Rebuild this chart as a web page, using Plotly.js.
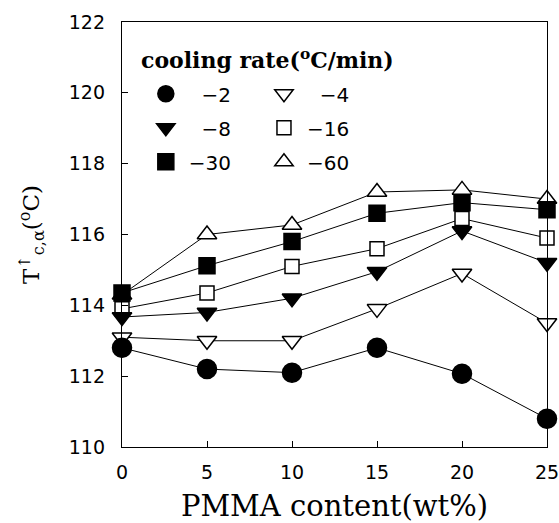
<!DOCTYPE html>
<html>
<head>
<meta charset="utf-8">
<script src="https://cdn.plot.ly/plotly-3.0.1.min.js"></script>
<style>html,body{margin:0;padding:0;background:#fff;}#chart{width:559px;height:523px;}</style>
</head>
<body>
<div id="chart"></div>
<script>
const pmma = [0, 5, 10, 15, 20, 25];
const rateLabels = ['−2', '−4', '−8', '−16', '−30', '−60'];
const tc_m2  = [112.8, 112.2, 112.1, 112.8, 112.07, 110.8];
const tc_m4  = [113.1, 113.0, 113.0, 113.9, 114.9, 113.5];
const tc_m8  = [113.67, 113.8, 114.2, 114.95, 116.1, 115.2];
const tc_m16 = [113.9, 114.35, 115.1, 115.6, 116.45, 115.9];
const tc_m30 = [114.35, 115.12, 115.8, 116.6, 116.9, 116.7];
const tc_m60 = [114.3, 116.0, 116.27, 117.2, 117.26, 117.0];
const yTicks = [110, 112, 114, 116, 118, 120, 122];
const xTicks = [0, 5, 10, 15, 20, 25];

const series = [
  {y: tc_m60, name: rateLabels[5], symbol: 'triangle-up', fill: '#fff', size: 17, legend: 'legend2', rank: 3},
  {y: tc_m4,  name: rateLabels[1], symbol: 'triangle-down', fill: '#fff', size: 17, legend: 'legend2', rank: 1},
  {y: tc_m16, name: rateLabels[3], symbol: 'square', fill: '#fff', size: 14, legend: 'legend2', rank: 2},
  {y: tc_m8,  name: rateLabels[2], symbol: 'triangle-down', fill: '#000', size: 17, legend: 'legend', rank: 2},
  {y: tc_m30, name: rateLabels[4], symbol: 'square', fill: '#000', size: 16, legend: 'legend', rank: 3},
  {y: tc_m2,  name: rateLabels[0], symbol: 'circle', fill: '#000', size: 19, legend: 'legend', rank: 1}
];

const pad = s => (s.length < 3 ? '\u2007' : '') + s;

const traces = [];
series.forEach((s, i) => {
  traces.push({
    x: pmma, y: s.y, type: 'scatter', mode: 'lines', showlegend: false, hoverinfo: 'skip',
    line: {color: '#000', width: 1}, cliponaxis: false
  });
  traces.push({
    x: pmma, y: s.y, name: pad(s.name), type: 'scatter', mode: 'markers',
    legend: s.legend, legendrank: s.rank, legendgroup: 'g' + i, cliponaxis: false,
    marker: {symbol: s.symbol, size: s.size, color: s.fill, line: {color: '#000', width: 1.5}}
  });
});

const legendCommon = {
  orientation: 'v', traceorder: 'grouped', tracegroupgap: 5,
  bgcolor: 'rgba(0,0,0,0)', borderwidth: 0,
  font: {family: 'DejaVu Sans', size: 20, color: '#000'},
  xanchor: 'left', yanchor: 'top', itemwidth: 36
};

const layout = {
  width: 559, height: 523,
  margin: {l: 122, r: 12, t: 22, b: 76, autoexpand: false},
  paper_bgcolor: '#fff', plot_bgcolor: '#fff',
  showlegend: true,
  legend: Object.assign({}, legendCommon, {x: 0.049, y: 0.877}),
  legend2: Object.assign({}, legendCommon, {x: 0.327, y: 0.877}),
  xaxis: {
    range: [0, 25], tickvals: xTicks, ticks: 'inside', ticklen: 6, tickcolor: '#000',
    showline: true, linecolor: '#000', linewidth: 1.2, mirror: true, showgrid: false, zeroline: false,
    tickfont: {family: 'DejaVu Sans', size: 19, color: '#000'},
    ticklabelstandoff: 8, ticklabeloverflow: 'allow',
    title: {text: 'PMMA content(wt%)', font: {family: 'DejaVu Serif', size: 29, color: '#000'}, standoff: 21}
  },
  yaxis: {
    range: [110, 122], tickvals: yTicks, ticks: 'inside', ticklen: 6, tickcolor: '#000',
    showline: true, linecolor: '#000', linewidth: 1.2, mirror: true, showgrid: false, zeroline: false,
    tickfont: {family: 'DejaVu Sans', size: 19, color: '#000'},
    ticklabelstandoff: 12, ticklabeloverflow: 'allow',
    title: {text: 'T<sup>↑</sup><sub>c,α</sub>(<sup>o</sup>C)', font: {family: 'DejaVu Serif', size: 23, color: '#000'}, standoff: 22}
  },
  annotations: [{
    xref: 'paper', yref: 'paper', x: 0.04, y: 0.914, xanchor: 'left', yanchor: 'middle',
    text: '<b>cooling rate(<sup>o</sup>C/min)</b>', showarrow: false,
    font: {family: 'DejaVu Serif', size: 22, color: '#000'}
  }]
};

Plotly.newPlot('chart', traces, layout, {displayModeBar: false, staticPlot: true});
</script>
</body>
</html>
